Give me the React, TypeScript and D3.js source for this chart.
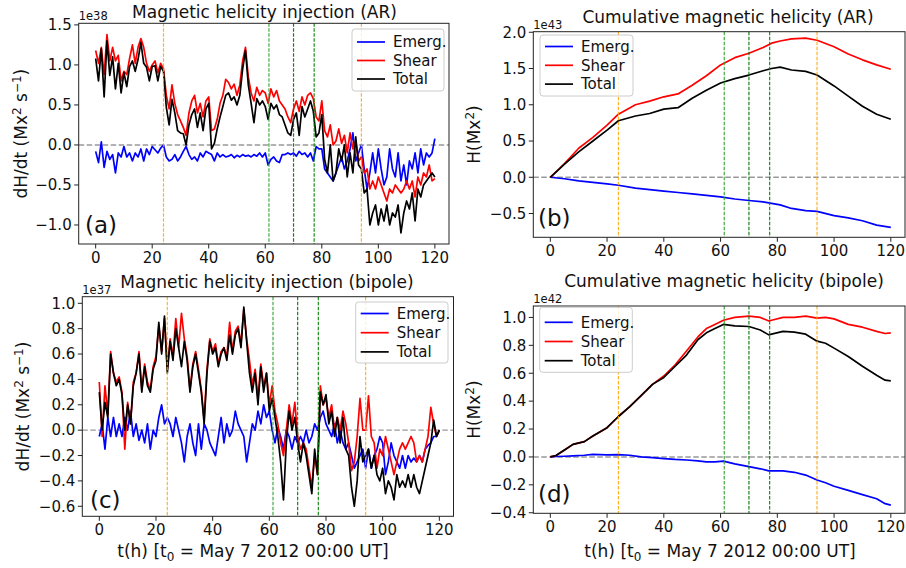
import React from "react";
import * as d3 from "d3";

// hourly samples, t = 0..120 h
const hours = d3.range(0, 121);

// panel (a) dH/dt, AR, units 1e38
const emergA = [
  -0.08, -0.22, 0.04, -0.28, -0.08, -0.18, -0.12, -0.35, -0.1, -0.15, -0.02, -0.15, -0.1, -0.2, -0.1, -0.15, -0.05, -0.2, -0.05, -0.12,
  -0.02, -0.06, -0.1, -0.04, 0.0, -0.15, -0.2, -0.18, -0.12, -0.2, -0.15, -0.08, -0.02, -0.12, -0.18, -0.15, -0.2, -0.1, -0.15, -0.08,
  -0.1, -0.12, -0.2, -0.1, -0.15, -0.12, -0.15, -0.14, -0.12, -0.16, -0.13, -0.15, -0.12, -0.14, -0.13, -0.15, -0.12, -0.14, -0.1, -0.15,
  -0.1, -0.25, -0.18, -0.15, -0.2, -0.22, -0.12, -0.12, -0.1, -0.12, -0.1, -0.14, -0.08, -0.12, -0.1, -0.15, -0.1, -0.2, -0.02, -0.05,
  -0.05, -0.3, -0.35, -0.4, -0.45, -0.35, -0.25, -0.15, -0.3, -0.2, -0.05, 0.15, -0.2, -0.1, 0.0, -0.3, -0.55, -0.35, -0.1, -0.35,
  -0.05, -0.3, -0.5, -0.4, -0.05, -0.3, -0.4, -0.1, -0.45, -0.25, -0.5, -0.2, -0.3, -0.1, -0.35, -0.05, -0.25, -0.1, -0.15, -0.1,
  0.08,
];
const shearA = [
  1.18, 1.02, 1.22, 0.88, 1.38, 1.05, 1.22, 1.05, 1.12, 0.8, 0.92, 0.88, 1.08, 1.25, 1.02, 1.22, 1.33, 1.22, 1.02, 0.92,
  1.0, 1.05, 0.9, 1.02, 0.95, 0.62, 0.45, 0.75, 0.52, 0.38, 0.3, 0.22, 0.12, 0.4, 0.55, 0.62, 0.4, 0.52, 0.35, 0.55,
  0.6, 0.18, 0.2, 0.32, 0.52, 0.62, 0.82, 0.78, 0.7, 0.76, 0.62, 0.75, 1.05, 1.22, 0.85, 0.65, 0.55, 0.72, 0.62, 0.68,
  0.65, 0.52, 0.7, 0.6, 0.68, 0.55, 0.5, 0.45, 0.35, 0.28, 0.45, 0.55, 0.42, 0.6, 0.5, 0.62, 0.65, 0.58, 0.35, 0.3,
  0.55, 0.18, 0.1, 0.25, 0.0, 0.05, 0.2, 0.02, 0.12, -0.1, 0.15, -0.05, 0.05, -0.2, -0.15, -0.35, -0.3, -0.55, -0.45, -0.55,
  -0.4, -0.5, -0.6, -0.7, -0.55, -0.6, -0.5, -0.55, -0.6, -0.55, -0.45, -0.55, -0.45, -0.65, -0.4, -0.5, -0.35, -0.4, -0.25, -0.45,
  -0.42,
];
const totalA = [
  1.08, 0.8, 1.2, 0.6, 1.3, 0.87, 1.1, 0.7, 1.02, 0.65, 0.9, 0.73, 0.98, 1.05, 0.92, 1.07, 1.28, 1.02, 0.97, 0.8,
  0.98, 0.99, 0.8, 0.98, 0.92, 0.47, 0.25, 0.57, 0.4, 0.18, 0.15, 0.14, 0.0, 0.25, 0.38, 0.45, 0.22, 0.4, 0.18, 0.45,
  0.52, -0.05, 0.02, 0.2, 0.35, 0.48, 0.62, 0.65, 0.56, 0.6, 0.5, 0.62, 0.95, 1.18, 0.75, 0.52, 0.28, 0.58, 0.5, 0.55,
  0.48, 0.32, 0.52, 0.45, 0.5, 0.38, 0.35, 0.25, 0.15, 0.12, 0.32, 0.4, 0.12, 0.48, 0.35, 0.45, 0.55, 0.42, 0.1, 0.15,
  0.38, -0.18, -0.35, 0.0, -0.45, -0.35, -0.05, -0.2, 0.0, -0.4, -0.1, -0.35, 0.1, -0.25, -0.3, -0.6, -0.55, -1.0, -0.85, -0.75,
  -1.0, -0.8, -0.95, -0.75, -1.0, -0.85, -0.9, -0.75, -1.1, -0.85, -0.7, -0.8, -0.6, -0.95, -0.55, -0.65, -0.5, -0.45, -0.4, -0.35,
  -0.4,
];

// panel (c) dH/dt, bipole, units 1e37
const emergC = [
  -0.05, 0.05, -0.15, 0.1, -0.05, 0.1, -0.05, 0.05, -0.05, 0.1, 0.0, 0.15, -0.05, 0.05, -0.08, 0.0, -0.1, 0.05, -0.15, 0.0,
  -0.05, 0.1, 0.2, 0.05, 0.1, 0.05, -0.05, 0.1, 0.0, -0.1, -0.25, -0.05, 0.05, -0.1, -0.2, 0.05, -0.15, 0.05, 0.0, -0.1,
  -0.15, -0.2, -0.05, 0.1, -0.1, 0.05, -0.05, 0.0, 0.15, 0.05, 0.0, -0.05, -0.25, -0.1, 0.05, 0.0, 0.15, 0.05, 0.2, 0.1,
  0.15, 0.0, -0.1, 0.02, -0.05, -0.15, 0.0, -0.05, -0.15, -0.05, -0.1, -0.05, -0.1, 0.0, -0.1, -0.05, 0.05, 0.0, 0.1, 0.15,
  0.05, 0.0, -0.05, 0.05, -0.1, 0.0, -0.1, -0.15, -0.1, -0.2, -0.3, -0.25, -0.2, -0.15, -0.3, -0.15, -0.3, -0.2, -0.15, -0.05,
  -0.1, -0.35, -0.25, -0.1, -0.2, -0.25, -0.3, -0.2, -0.3, -0.2, -0.25, -0.22, -0.25, -0.2, -0.25, -0.15, -0.12, -0.1, -0.05, -0.05,
  0.0,
];
const shearC = [
  0.38, -0.05, 0.35, 0.12, 0.62, 0.45, 0.38, 0.42, 0.3, -0.15, 0.22, 0.05, 0.38, 0.45, 0.62, 0.32, 0.52, 0.38, 0.32, 0.5,
  0.58, 0.82, 0.62, 0.88, 0.48, 0.72, 0.58, 0.88, 0.65, 0.92, 0.72, 0.58, 0.32, 0.52, 0.62, 0.48, 0.32, 0.08, 0.48, 0.72,
  0.62, 0.68, 0.52, 0.62, 0.65, 0.58, 0.85, 0.62, 0.78, 0.82, 0.68, 0.95, 0.72, 0.55, 0.35, 0.48, 0.25, 0.52, 0.35, 0.45,
  0.2, 0.35, 0.15, 0.05, -0.1, -0.2, 0.0, 0.2, 0.05, 0.22, -0.05, -0.15, -0.1, -0.15, -0.3, -0.45, -0.2, -0.35, 0.35, 0.2,
  0.25, 0.1, 0.2, 0.0, 0.1, 0.0, 0.15, 0.05, -0.1, -0.32, -0.25, -0.05, 0.25, 0.0, 0.0, 0.27, -0.05, -0.1, -0.3, -0.15,
  -0.2, -0.05, -0.15, -0.25, -0.35, -0.25, -0.15, -0.1, -0.15, -0.1, -0.05, -0.1, -0.25, -0.2, -0.25, -0.15, -0.05, 0.18, 0.05, -0.05,
  0.0,
];
const totalC = [
  0.3, 0.0, 0.22, 0.1, 0.6, 0.45, 0.35, 0.4, 0.28, 0.0, 0.2, 0.05, 0.35, 0.45, 0.6, 0.3, 0.5, 0.35, 0.3, 0.48,
  0.55, 0.85, 0.6, 0.9, 0.45, 0.7, 0.55, 0.8, 0.65, 0.5, 0.7, 0.55, 0.3, 0.5, 0.6, 0.45, 0.3, 0.05, 0.45, 0.7,
  0.6, 0.65, 0.5, 0.6, 0.65, 0.55, 0.75, 0.6, 0.75, 0.8, 0.65, 0.97, 0.7, 0.45, 0.3, 0.45, 0.2, 0.5, 0.3, 0.45,
  0.15, 0.25, 0.1, -0.05, -0.25, -0.55, -0.1, 0.15, 0.0, 0.1, -0.1, -0.25, -0.1, -0.2, -0.35, -0.5, -0.15, -0.35, 0.3, 0.2,
  0.28, 0.05, 0.15, -0.05, 0.1, -0.1, 0.1, -0.15, -0.2, -0.45, -0.6, -0.4, -0.05, -0.25, -0.2, -0.15, -0.3, -0.2, -0.35, -0.4,
  -0.3, -0.5, -0.4, -0.45, -0.55, -0.35, -0.45, -0.4, -0.45, -0.35, -0.45, -0.35, -0.45, -0.5, -0.4, -0.3, -0.2, -0.1, 0.08, -0.05,
  0.0,
];

// panel (b) cumulative, AR, units 1e43
const timeB = [0, 5, 10, 15, 20, 24, 30, 35, 40, 45, 50, 55, 60, 65, 70, 75, 78, 81, 85, 90, 94, 100, 105, 110, 115, 120];
const emergB = [0, -0.02, -0.05, -0.07, -0.09, -0.11, -0.15, -0.17, -0.19, -0.21, -0.23, -0.25, -0.27, -0.3, -0.32, -0.34, -0.36, -0.38, -0.43, -0.46, -0.47, -0.53, -0.56, -0.6, -0.66, -0.69];
const shearB = [0, 0.19, 0.4, 0.55, 0.72, 0.87, 1.0, 1.05, 1.11, 1.15, 1.27, 1.4, 1.55, 1.65, 1.71, 1.79, 1.85, 1.88, 1.91, 1.92, 1.89, 1.8, 1.7, 1.62, 1.55, 1.49];
const totalB = [0, 0.18, 0.35, 0.5, 0.65, 0.78, 0.845, 0.88, 0.94, 0.96, 1.09, 1.2, 1.3, 1.36, 1.41, 1.47, 1.5, 1.52, 1.48, 1.46, 1.41, 1.26, 1.12, 0.98, 0.87, 0.8];

// panel (d) cumulative, bipole, units 1e42
const timeD = [0, 2, 5, 8, 12, 15, 20, 24, 28, 32, 36, 40, 44, 48, 52, 55, 58, 61, 65, 70, 74, 77, 78, 82, 86, 90, 94, 97, 100, 105, 110, 115, 118, 120];
const emergD = [0, 0.003, 0.005, 0.008, 0.012, 0.018, 0.015, 0.017, 0.012, 0.0, -0.005, -0.012, -0.018, -0.022, -0.028, -0.035, -0.035, -0.03, -0.05, -0.07, -0.085, -0.1, -0.1, -0.1, -0.11, -0.13, -0.165, -0.185, -0.21, -0.24, -0.27, -0.3, -0.335, -0.345];
const shearD = [0, 0.01, 0.05, 0.09, 0.11, 0.15, 0.21, 0.29, 0.36, 0.44, 0.52, 0.58, 0.66, 0.76, 0.86, 0.92, 0.95, 0.98, 1.0, 1.01, 1.0, 0.975, 0.98, 1.0, 1.0, 1.01, 0.995, 1.0, 0.99, 0.95, 0.93, 0.9, 0.885, 0.89];
const totalD = [0, 0.01, 0.05, 0.09, 0.11, 0.15, 0.21, 0.29, 0.36, 0.44, 0.52, 0.57, 0.65, 0.73, 0.84, 0.89, 0.92, 0.95, 0.94, 0.935, 0.91, 0.875, 0.88, 0.9, 0.895, 0.88, 0.83, 0.815, 0.78, 0.72, 0.65, 0.585, 0.55, 0.545];

const xTicks = [0, 20, 40, 60, 80, 100, 120];
const yTicksA = [-1.0, -0.5, 0.0, 0.5, 1.0, 1.5];
const yTicksB = [-0.5, 0.0, 0.5, 1.0, 1.5, 2.0];
const yTicksC = [-0.6, -0.4, -0.2, 0.0, 0.2, 0.4, 0.6, 0.8, 1.0];
const yTicksD = [-0.4, -0.2, 0.0, 0.2, 0.4, 0.6, 0.8, 1.0];
const seriesNames = ["Emerg.", "Shear", "Total"];
const seriesColors = ["#0000ff", "#ff0000", "#000000"];
// event markers (hours)
const markers = [
  { t: 24, color: "#ffa500", op: 0.85 },
  { t: 61.3, color: "#2ca02c", op: 0.9 },
  { t: 70, color: "#007000", op: 0.9 },
  { t: 77.3, color: "#008000", op: 0.9 },
  { t: 94, color: "#ffa500", op: 0.85 },
];

const FONT = "DejaVu Sans, sans-serif";
const fmt = (v: number) => d3.format(".1f")(v).replace("-", "\u2212");

function Panel(props: any) {
  const { box, yDomain, yTicks, series, title, titleX, titleY, ylabel, ylabelX, expo, letter, legend } = props;
  const x = d3.scaleLinear().domain([-6, 125]).range([box.l, box.r]);
  const y = d3.scaleLinear().domain(yDomain).range([box.b, box.t]);
  const line = d3.line<[number, number]>().x((d) => x(d[0])).y((d) => y(d[1]));
  const clipId = "clip" + letter.s.replace(/[()]/g, "");
  const midY = (box.t + box.b) / 2;
  return (
    <g fontFamily={FONT}>
      <defs>
        <clipPath id={clipId}>
          <rect x={box.l} y={box.t} width={box.r - box.l} height={box.b - box.t} />
        </clipPath>
      </defs>
      <g clipPath={`url(#${clipId})`}>
        <line x1={box.l} x2={box.r} y1={y(0)} y2={y(0)} stroke="#999" strokeWidth={1.4} strokeDasharray="5.5,2.5" />
        {series.map((s: any, i: number) => (
          <path key={i} d={line(s.t.map((t: number, k: number) => [t, s.v[k]]) as any) || ""} fill="none"
            stroke={seriesColors[i]} strokeWidth={1.7} strokeLinejoin="round" />
        ))}
        {markers.map((m, i) => (
          <line key={i} x1={x(m.t)} x2={x(m.t)} y1={box.t} y2={box.b} stroke={m.color} strokeOpacity={m.op}
            strokeWidth={1.2} strokeDasharray="3.5,1.5" />
        ))}
      </g>
      <rect x={box.l} y={box.t} width={box.r - box.l} height={box.b - box.t} fill="none" stroke="#222" strokeWidth={1} />
      {xTicks.map((t) => (
        <g key={t}>
          <line x1={x(t)} x2={x(t)} y1={box.b} y2={box.b + 4.5} stroke="#222" />
          <text x={x(t)} y={box.b + 19} fontSize={15} textAnchor="middle" fill="#111">{t}</text>
        </g>
      ))}
      {yTicks.map((v: number) => (
        <g key={v}>
          <line x1={box.l - 4.5} x2={box.l} y1={y(v)} y2={y(v)} stroke="#222" />
          <text x={box.l - 7} y={y(v) + 5.3} fontSize={15} textAnchor="end" fill="#111">{fmt(v)}</text>
        </g>
      ))}
      <text x={box.l} y={box.t - 3} fontSize={11.5} fill="#111">{expo}</text>
      <text x={titleX} y={titleY} fontSize={17} textAnchor="middle" fill="#111">{title}</text>
      <text transform={`translate(${ylabelX},${midY}) rotate(-90)`} fontSize={17} textAnchor="middle" fill="#111">{ylabel}</text>
      <text x={letter.x} y={letter.y} fontSize={23} fill="#111">{letter.s}</text>
      <g>
        <rect x={legend.x} y={legend.y} width={legend.w} height={legend.h} rx={3} fill="white" fillOpacity={0.8} stroke="#ccc" />
        {seriesNames.map((n, i) => (
          <g key={n}>
            <line x1={legend.x + 5} x2={legend.x + 33} y1={legend.y + legend.r0 + i * legend.dr}
              y2={legend.y + legend.r0 + i * legend.dr} stroke={seriesColors[i]} strokeWidth={1.7} />
            <text x={legend.x + 41} y={legend.y + legend.r0 + i * legend.dr + 5.2} fontSize={15} fill="#111">{n}</text>
          </g>
        ))}
      </g>
    </g>
  );
}

export default function App() {
  const dhLabel = (
    <>
      dH/dt (Mx<tspan dy={-6.5} fontSize={12}>2</tspan>
      <tspan dy={6.5}> s</tspan>
      <tspan dy={-6.5} fontSize={12}>{"\u22121"}</tspan>
      <tspan dy={6.5}>)</tspan>
    </>
  );
  const hLabel = (
    <>
      H(Mx<tspan dy={-6.5} fontSize={12}>2</tspan>
      <tspan dy={6.5}>)</tspan>
    </>
  );
  const xLabel = (
    <>
      t(h) [t<tspan dy={4} fontSize={12}>0</tspan>
      <tspan dy={-4}> = May 7 2012 00:00 UT]</tspan>
    </>
  );
  const mk = (t: number[], vs: number[][]) => vs.map((v) => ({ t, v }));
  return (
    <svg width={906} height={568} style={{ position: "absolute", left: 0, top: 0, background: "white" }}>
      <Panel
        box={{ l: 78.7, r: 449, t: 23.3, b: 244 }}
        yDomain={[-1.2375, 1.52]}
        yTicks={yTicksA}
        series={mk(hours, [emergA, shearA, totalA])}
        title="Magnetic helicity injection (AR)" titleX={264.5} titleY={18}
        ylabel={dhLabel} ylabelX={27}
        expo="1e38"
        letter={{ s: "(a)", x: 85, y: 233 }}
        legend={{ x: 352, y: 29, w: 92, h: 62, r0: 13, dr: 18.5 }}
      />
      <Panel
        box={{ l: 533.3, r: 905, t: 31.7, b: 237.3 }}
        yDomain={[-0.828, 2.008]}
        yTicks={yTicksB}
        series={mk(timeB, [emergB, shearB, totalB])}
        title="Cumulative magnetic helicity (AR)" titleX={728} titleY={23}
        ylabel={hLabel} ylabelX={480}
        expo="1e43"
        letter={{ s: "(b)", x: 538, y: 226 }}
        legend={{ x: 540, y: 35, w: 93, h: 61, r0: 11.5, dr: 18.8 }}
      />
      <Panel
        box={{ l: 82.3, r: 453.5, t: 296.7, b: 516.3 }}
        yDomain={[-0.679, 1.052]}
        yTicks={yTicksC}
        series={mk(hours, [emergC, shearC, totalC])}
        title="Magnetic helicity injection (bipole)" titleX={267} titleY={288}
        ylabel={dhLabel} ylabelX={29}
        expo="1e37"
        letter={{ s: "(c)", x: 90, y: 508 }}
        legend={{ x: 355.7, y: 302, w: 92.3, h: 61, r0: 11.5, dr: 19.2 }}
      />
      <Panel
        box={{ l: 533.3, r: 905, t: 306, b: 513.3 }}
        yDomain={[-0.404, 1.082]}
        yTicks={yTicksD}
        series={mk(timeD, [emergD, shearD, totalD])}
        title="Cumulative magnetic helicity (bipole)" titleX={724} titleY={287}
        ylabel={hLabel} ylabelX={480}
        expo="1e42"
        letter={{ s: "(d)", x: 538, y: 502 }}
        legend={{ x: 539.7, y: 307.3, w: 92.6, h: 65, r0: 15, dr: 19.2 }}
      />
      <text x={253} y={557} fontSize={17} textAnchor="middle" fontFamily={FONT} fill="#111">{xLabel}</text>
      <text x={720} y={557} fontSize={17} textAnchor="middle" fontFamily={FONT} fill="#111">{xLabel}</text>
    </svg>
  );
}
